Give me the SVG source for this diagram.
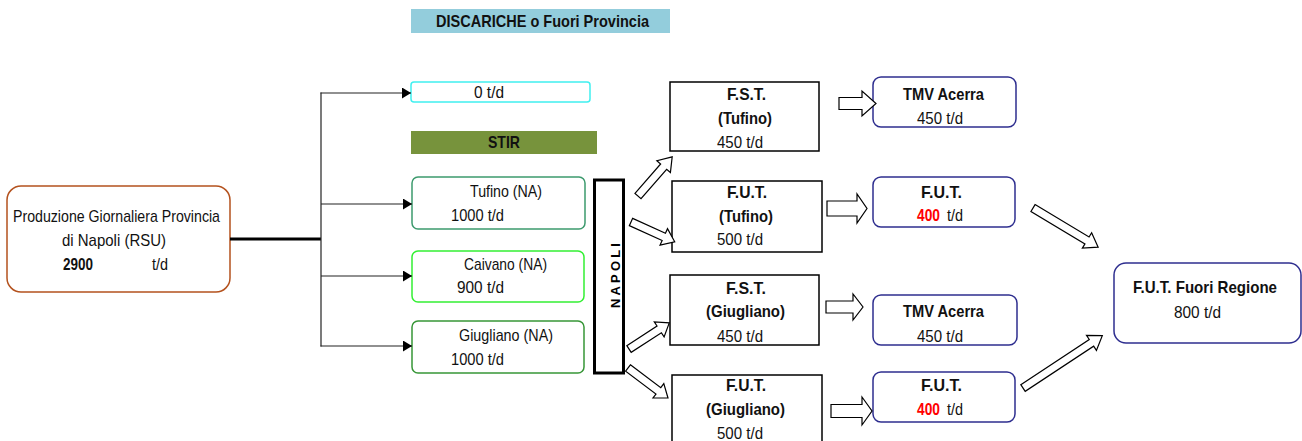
<svg xmlns="http://www.w3.org/2000/svg" width="1302" height="441" viewBox="0 0 1302 441">
<style>
text{font-family:"Liberation Sans",Arial,sans-serif;font-size:17px;fill:#111}
.b{font-weight:bold}
.red{fill:#ff0000;font-weight:bold}
.box{fill:#fff;stroke:#000;stroke-width:1.5}
.nav{fill:#fff;stroke:#2e2e8f;stroke-width:1.5}
.ln{stroke:#222;stroke-width:1.2;fill:none}
.blk{fill:#fff;stroke:#000;stroke-width:1.2;stroke-linejoin:miter}
</style>
<defs>
<marker id="tri" markerUnits="userSpaceOnUse" markerWidth="10" markerHeight="11" refX="9" refY="5.5" orient="auto">
<path d="M0,0 L9,5.5 L0,11 Z" fill="#000"/>
</marker>
</defs>

<g id="disc-header">
<rect x="411" y="9" width="259" height="24" fill="#93cddc"/>
<text class="b" x="436" y="27" textLength="213" lengthAdjust="spacingAndGlyphs">DISCARICHE o Fuori Provincia</text>
</g>
<g id="disc-box">
<rect x="411" y="82" width="179" height="20" rx="3" fill="#fff" stroke="#40f0f0" stroke-width="1.5"/>
<text x="474" y="98" textLength="30" lengthAdjust="spacingAndGlyphs">0 t/d</text>
</g>
<g id="stir-header">
<rect x="411" y="131" width="186" height="23" fill="#77933c"/>
<text class="b" x="488" y="148" textLength="32" lengthAdjust="spacingAndGlyphs">STIR</text>
</g>
<g id="source">
<rect x="7" y="186" width="223" height="106" rx="14" fill="#fff" stroke="#b4521e" stroke-width="1.5"/>
<text x="13" y="222" textLength="207" lengthAdjust="spacingAndGlyphs">Produzione Giornaliera Provincia</text>
<text x="62" y="246" textLength="104" lengthAdjust="spacingAndGlyphs">di Napoli (RSU)</text>
<text class="b" x="63" y="270" textLength="30" lengthAdjust="spacingAndGlyphs">2900</text>
<text x="152" y="270" textLength="16" lengthAdjust="spacingAndGlyphs">t/d</text>
</g>
<g id="stir-tufino">
<rect x="412" y="177" width="173" height="52" rx="6" fill="#fff" stroke="#3d9a6e" stroke-width="1.5"/>
<text x="470" y="197" textLength="72" lengthAdjust="spacingAndGlyphs">Tufino (NA)</text>
<text x="451" y="221" textLength="53" lengthAdjust="spacingAndGlyphs">1000 t/d</text>
</g>
<g id="stir-caivano">
<rect x="412" y="251" width="172" height="51" rx="6" fill="#fff" stroke="#33f033" stroke-width="1.5"/>
<text x="464" y="270" textLength="83" lengthAdjust="spacingAndGlyphs">Caivano (NA)</text>
<text x="457" y="293" textLength="47" lengthAdjust="spacingAndGlyphs">900 t/d</text>
</g>
<g id="stir-giugliano">
<rect x="412" y="321" width="172" height="52" rx="6" fill="#fff" stroke="#379637" stroke-width="1.5"/>
<text x="459" y="341" textLength="94" lengthAdjust="spacingAndGlyphs">Giugliano (NA)</text>
<text x="451" y="365" textLength="53" lengthAdjust="spacingAndGlyphs">1000 t/d</text>
</g>
<g id="napoli">
<rect x="594.5" y="180" width="29" height="193" fill="#fff" stroke="#000" stroke-width="3"/>
<text x="0" y="0" transform="translate(619.5,308) rotate(-90)" style="font-size:13px;font-weight:bold;fill:#000" textLength="65" lengthAdjust="spacing">NAPOLI</text>
</g>
<g id="fst-tufino">
<rect class="box" x="670" y="82" width="149" height="69"/>
<text class="b" x="727" y="100" textLength="39" lengthAdjust="spacingAndGlyphs">F.S.T.</text>
<text class="b" x="718" y="124" textLength="54" lengthAdjust="spacingAndGlyphs">(Tufino)</text>
<text x="717" y="148" textLength="46" lengthAdjust="spacingAndGlyphs">450 t/d</text>
</g>
<g id="fut-tufino">
<rect class="box" x="672" y="181" width="150" height="71"/>
<text class="b" x="727" y="198" textLength="40" lengthAdjust="spacingAndGlyphs">F.U.T.</text>
<text class="b" x="719" y="222" textLength="54" lengthAdjust="spacingAndGlyphs">(Tufino)</text>
<text x="717" y="245" textLength="46" lengthAdjust="spacingAndGlyphs">500 t/d</text>
</g>
<g id="fst-giugliano">
<rect class="box" x="670" y="275" width="149" height="70"/>
<text class="b" x="726" y="294" textLength="40" lengthAdjust="spacingAndGlyphs">F.S.T.</text>
<text class="b" x="706" y="317" textLength="79" lengthAdjust="spacingAndGlyphs">(Giugliano)</text>
<text x="717" y="342" textLength="46" lengthAdjust="spacingAndGlyphs">450 t/d</text>
</g>
<g id="fut-giugliano">
<rect class="box" x="672" y="375" width="150" height="75"/>
<text class="b" x="726" y="391" textLength="40" lengthAdjust="spacingAndGlyphs">F.U.T.</text>
<text class="b" x="706" y="415" textLength="79" lengthAdjust="spacingAndGlyphs">(Giugliano)</text>
<text x="717" y="439" textLength="46" lengthAdjust="spacingAndGlyphs">500 t/d</text>
</g>
<g id="tmv-acerra-1">
<rect class="nav" x="873" y="77" width="143" height="50" rx="8"/>
<text class="b" x="903" y="100" textLength="81" lengthAdjust="spacingAndGlyphs">TMV Acerra</text>
<text x="917" y="124" textLength="46" lengthAdjust="spacingAndGlyphs">450 t/d</text>
</g>
<g id="fut-400-1">
<rect class="nav" x="873" y="177" width="142" height="50" rx="8"/>
<text class="b" x="921" y="198" textLength="41" lengthAdjust="spacingAndGlyphs">F.U.T.</text>
<text class="red" x="917" y="221" textLength="23" lengthAdjust="spacingAndGlyphs">400</text>
<text x="947" y="221" textLength="16" lengthAdjust="spacingAndGlyphs">t/d</text>
</g>
<g id="tmv-acerra-2">
<rect class="nav" x="873" y="295" width="144" height="50" rx="8"/>
<text class="b" x="903" y="317" textLength="81" lengthAdjust="spacingAndGlyphs">TMV Acerra</text>
<text x="917" y="342" textLength="46" lengthAdjust="spacingAndGlyphs">450 t/d</text>
</g>
<g id="fut-400-2">
<rect class="nav" x="873" y="372" width="142" height="50" rx="8"/>
<text class="b" x="921" y="391" textLength="41" lengthAdjust="spacingAndGlyphs">F.U.T.</text>
<text class="red" x="917" y="415" textLength="23" lengthAdjust="spacingAndGlyphs">400</text>
<text x="947" y="415" textLength="16" lengthAdjust="spacingAndGlyphs">t/d</text>
</g>
<g id="fut-fuori-regione">
<rect class="nav" x="1114" y="263" width="187" height="80" rx="12"/>
<text class="b" x="1133" y="293" textLength="144" lengthAdjust="spacingAndGlyphs">F.U.T. Fuori Regione</text>
<text x="1174" y="318" textLength="47" lengthAdjust="spacingAndGlyphs">800 t/d</text>
</g>

<g id="connectors">
<line x1="230" y1="239" x2="321" y2="239" stroke="#000" stroke-width="3"/>
<line class="ln" x1="321" y1="92.5" x2="321" y2="346.5"/>
<line class="ln" x1="320.5" y1="93" x2="411" y2="93" marker-end="url(#tri)"/>
<line class="ln" x1="321" y1="204" x2="412" y2="204" marker-end="url(#tri)"/>
<line class="ln" x1="321" y1="276" x2="412" y2="276" marker-end="url(#tri)"/>
<line class="ln" x1="320.5" y1="346" x2="412" y2="346" marker-end="url(#tri)"/>

<polygon class="blk" points="839,97.5 862,97.5 862,91 876,103.5 862,116 862,109.5 839,109.5"/>
<polygon class="blk" points="827,201 857,201 857,194 867,208.5 857,223 857,216 827,216"/>
<polygon class="blk" points="826,301 853,301 853,294 863,307 853,320 853,313 826,313"/>
<polygon class="blk" points="831,404.5 862,404.5 862,397 872,411 862,425 862,417.5 831,417.5"/>

<polygon class="blk" transform="translate(638,196) rotate(-48.9)" points="0,-4 39,-4 39,-9 52,0 39,9 39,4 0,4"/>
<polygon class="blk" transform="translate(631,222) rotate(24.4)" points="0,-4 36,-4 36,-9 48,0 36,9 36,4 0,4"/>
<polygon class="blk" transform="translate(629,349) rotate(-33)" points="0,-4 36,-4 36,-9 48,0 36,9 36,4 0,4"/>
<polygon class="blk" transform="translate(628,368) rotate(36.9)" points="0,-4 38,-4 38,-9 50,0 38,9 38,4 0,4"/>
<polygon class="blk" transform="translate(1033,208) rotate(31)" points="0,-4 63,-4 63,-9 76,0 63,9 63,4 0,4"/>
<polygon class="blk" transform="translate(1023,388) rotate(-33.4)" points="0,-4 82,-4 82,-9 95,0 82,9 82,4 0,4"/>
</g>
</svg>
